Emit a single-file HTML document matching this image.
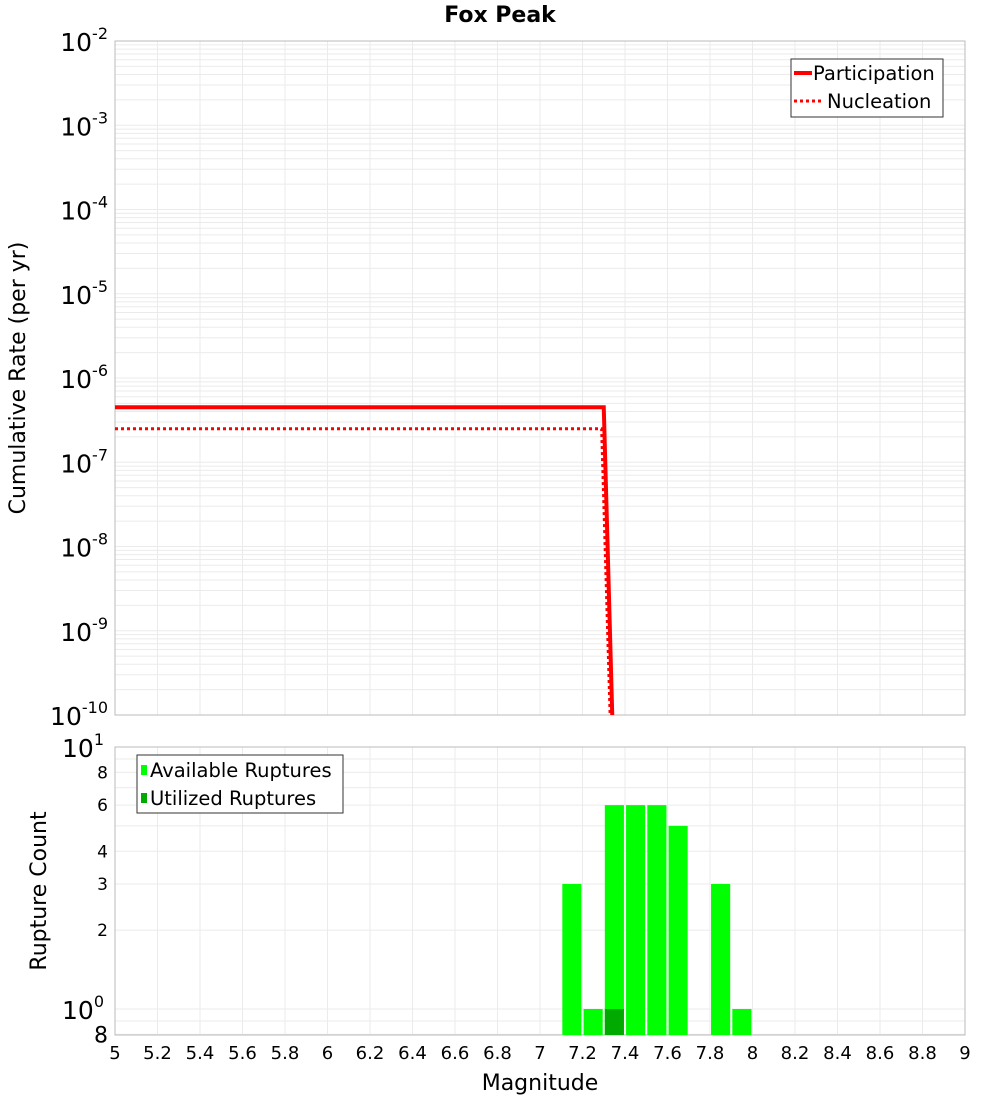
<!DOCTYPE html>
<html><head><meta charset="utf-8"><style>
body{margin:0;background:#fff;font-family:"Liberation Sans","DejaVu Sans",sans-serif}
svg text{font-family:"DejaVu Sans","Liberation Sans",sans-serif}
</style></head><body>
<svg id="c" width="1000" height="1100" xmlns="http://www.w3.org/2000/svg"></svg>
<script>
const xTicks=[5,5.2,5.4,5.6,5.8,6,6.2,6.4,6.6,6.8,7,7.2,7.4,7.6,7.8,8,8.2,8.4,8.6,8.8,9];
const xTickLabels=["5","5.2","5.4","5.6","5.8","6","6.2","6.4","6.6","6.8","7","7.2","7.4","7.6","7.8","8","8.2","8.4","8.6","8.8","9"];
const topExps=[-2,-3,-4,-5,-6,-7,-8,-9,-10];
const partMag=[5,7.3,7.34];
const partRate=[4.5e-7,4.5e-7,1e-10];
const nuclMag=[5,7.29,7.33];
const nuclRate=[2.5e-7,2.5e-7,1e-10];
const binCenters=[7.15,7.25,7.35,7.45,7.55,7.65,7.85,7.95];
const availCounts=[3,1,6,6,6,5,3,1];
const utilCounts=[0,0,1,0,0,0,0,0];
const botTicks=[8,6,4,3,2,0.8];
const botTickLabels=["8","6","4","3","2","8"];

const svg=document.getElementById('c');const NS="http://www.w3.org/2000/svg";
function el(t,a,p){const e=document.createElementNS(NS,t);for(const k in a)e.setAttribute(k,a[k]);(p||svg).appendChild(e);return e;}
const X0=115,X1=965;
const xs=m=>X0+(m-5)/4*(X1-X0);
const T0=41,T1=715;
const yt=v=>T0+(-2-Math.log10(v))/8*(T1-T0);
const B0=747,B1=1035;
const yb=v=>B0+(1-Math.log10(v))*262;

let t=el('text',{x:500,y:22,'text-anchor':'middle','font-size':22,'font-weight':'bold'});t.textContent="Fox Peak";


let g=el('g',{stroke:'#ebebeb','stroke-width':1});

for(let e=-10;e<-2;e++)for(let k=1;k<10;k++){const y=yt(k*Math.pow(10,e));el('line',{x1:X0,x2:X1,y1:y,y2:y},g);}
xTicks.forEach(m=>el('line',{x1:xs(m),x2:xs(m),y1:T0,y2:T1},g));
let f=el('rect',{x:X0,y:T0,width:X1-X0,height:T1-T0,fill:'none',stroke:'#bbb'});

topExps.forEach(e=>{const y=yt(Math.pow(10,e));let tx=el('text',{x:108,y:y+10,'text-anchor':'end','font-size':25});

tx.innerHTML='10<tspan dy="-12" font-size="16">'+e+'</tspan>';});
t=el('text',{transform:'translate(25,378) rotate(-90)','text-anchor':'middle','font-size':22});t.textContent="Cumulative Rate (per yr)";


let p=el('polyline',{points:nuclMag.map((m,i)=>xs(m)+','+yt(nuclRate[i])).join(' '),fill:'none',stroke:'#f00','stroke-width':3,'stroke-dasharray':'3,3'});

p=el('polyline',{points:partMag.map((m,i)=>xs(m)+','+yt(partRate[i])).join(' '),fill:'none',stroke:'#f00','stroke-width':4});


let lg=el('g',{});
el('rect',{x:791,y:59,width:152,height:58,fill:'#fff',stroke:'#333'},lg);
el('line',{x1:794,x2:812,y1:73,y2:73,stroke:'#f00','stroke-width':4},lg);
el('line',{x1:794,x2:822,y1:101,y2:101,stroke:'#f00','stroke-width':3,'stroke-dasharray':'3,3'},lg);
t=el('text',{x:813,y:80,'font-size':19.5},lg);t.textContent="Participation";
t=el('text',{x:827,y:108,'font-size':19.5},lg);t.textContent="Nucleation";

g=el('g',{stroke:'#ebebeb','stroke-width':1});

[0.8,0.9,1,2,3,4,5,6,7,8,9].forEach(v=>{const y=yb(v);el('line',{x1:X0,x2:X1,y1:y,y2:y},g);});
xTicks.forEach(m=>el('line',{x1:xs(m),x2:xs(m),y1:B0,y2:B1},g));
f=el('rect',{x:X0,y:B0,width:X1-X0,height:B1-B0,fill:'none',stroke:'#bbb'});


const bw=0.09;
binCenters.forEach((c,i)=>{const v=availCounts[i];if(v<=0)return;
 const r=el('rect',{x:xs(c-bw/2),y:yb(v),width:xs(c+bw/2)-xs(c-bw/2),height:B1-yb(v),fill:'#00ff00'});
 });
binCenters.forEach((c,i)=>{const v=utilCounts[i];if(v<=0)return;
 const r=el('rect',{x:xs(c-bw/2),y:yb(v),width:xs(c+bw/2)-xs(c-bw/2),height:B1-yb(v),fill:'#00aa00'});
 });

botTicks.forEach((v,i)=>{let tx=el('text',{x:108,y:yb(v)+(v<1?8:6),'text-anchor':'end','font-size':v<1?22:17});tx.textContent=botTickLabels[i];
});
[[1,10],[0,1]].forEach(([e,v])=>{let tx=el('text',{x:104,y:yb(v)+10,'text-anchor':'end','font-size':25});
tx.innerHTML='10<tspan dy="-12" font-size="16">'+e+'</tspan>';
});
t=el('text',{transform:'translate(46,891) rotate(-90)','text-anchor':'middle','font-size':22});t.textContent="Rupture Count";


lg=el('g',{});
el('rect',{x:137,y:755,width:206,height:58,fill:'#fff',stroke:'#333'},lg);
el('rect',{x:141,y:765,width:6,height:10,fill:'#00ff00'},lg);
el('rect',{x:141,y:793,width:6,height:10,fill:'#00aa00'},lg);
t=el('text',{x:150,y:777,'font-size':19.5},lg);t.textContent="Available Ruptures";
t=el('text',{x:150,y:805,'font-size':19.5},lg);t.textContent="Utilized Ruptures";

xTicks.forEach((m,i)=>{let tx=el('text',{x:xs(m),y:1059,'text-anchor':'middle','font-size':18});tx.textContent=xTickLabels[i];
});
t=el('text',{x:540,y:1090,'text-anchor':'middle','font-size':22});t.textContent="Magnitude";

</script>
</body></html>
